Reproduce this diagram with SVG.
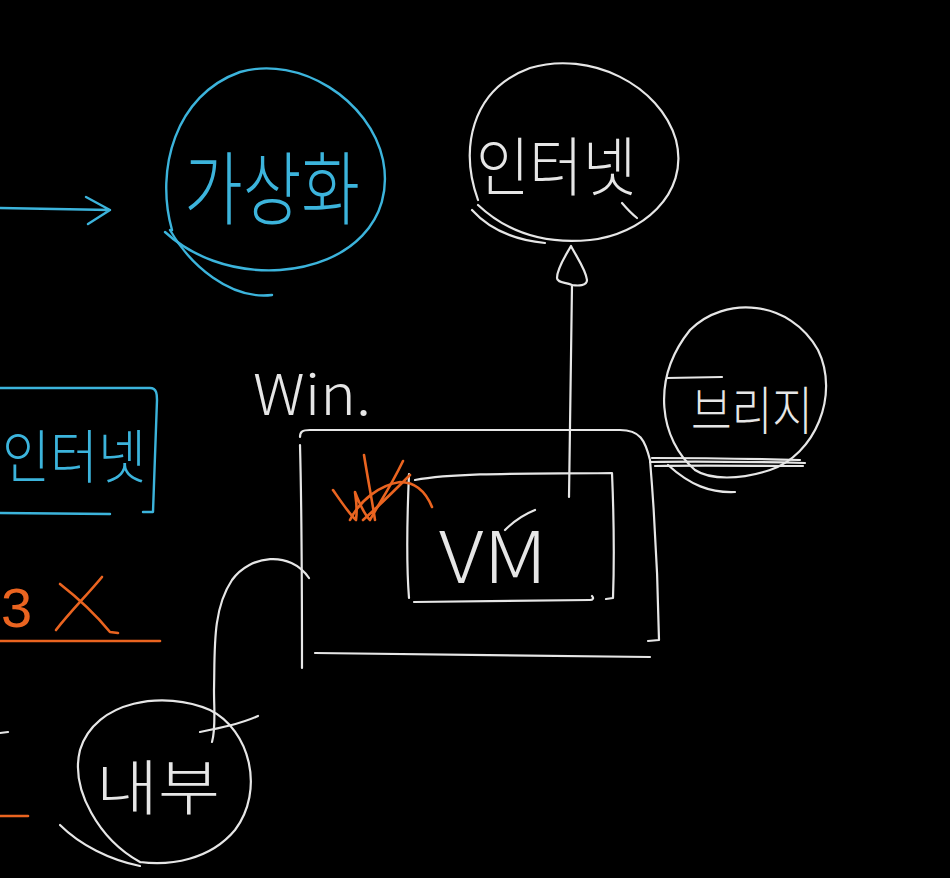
<svg xmlns="http://www.w3.org/2000/svg" width="950" height="878" viewBox="0 0 950 878">
<style>
.w{fill:none;stroke:#e6e6e6;stroke-width:2.2;stroke-linecap:round;stroke-linejoin:round}
.b{fill:none;stroke:#3cb4dc;stroke-width:2.4;stroke-linecap:round;stroke-linejoin:round}
.o{fill:none;stroke:#ea6420;stroke-width:2.6;stroke-linecap:round;stroke-linejoin:round}
.tw{fill:#e6e6e6;font-family:"Noto Sans CJK KR","Liberation Sans",sans-serif;font-weight:300}
.tb{fill:#3cb4dc;font-family:"Noto Sans CJK KR","Liberation Sans",sans-serif;font-weight:300}
.to{fill:#ea6420;font-family:"Liberation Sans",sans-serif;font-weight:300}
</style>
<rect width="950" height="878" fill="#000"/>

<g id="connectors">
  <path class="b" d="M0,208 L110,210 M86,197 L110,210 L88,224"/>
  <path class="w" d="M569,497 L572,285 M572,285 C565,282 557,283 557,278 C557,268 566,255 571,246 C576,256 586,270 587,280 C587,286 578,286 572,285"/>
  <path class="w" d="M309,578 C290,550 250,555 232,580 C212,610 215,650 214,690 C214,710 216,728 212,742"/>
  <path class="w" d="M200,732 C220,728 240,724 258,716"/>
  <path class="w" d="M650,462 C700,461 760,462 805,463 M652,458 C700,458 760,459 800,460 M655,466 C700,465 760,466 803,466"/>
</g>

<g id="node-virtualization">
  <path class="b" d="M172,230 C155,170 175,95 240,72 C300,55 370,100 383,160 C395,220 350,265 280,270 C230,273 190,255 165,232"/>
  <path class="b" d="M170,230 C190,265 230,300 272,295"/>
  <text class="tb" x="272" y="218" font-size="80" text-anchor="middle" textLength="176" lengthAdjust="spacingAndGlyphs">가상화</text>
</g>

<g id="node-internet-top">
  <path class="w" d="M478,200 C460,150 470,90 530,68 C590,50 660,85 676,140 C690,195 640,235 590,240 C550,244 510,235 478,205"/>
  <path class="w" d="M472,210 C490,230 515,240 545,243"/>
  <path class="w" d="M622,203 C628,210 632,214 637,218"/>
  <text class="tw" x="556" y="190" font-size="64" text-anchor="middle" textLength="160" lengthAdjust="spacingAndGlyphs">인터넷</text>
</g>

<g id="node-bridge">
  <path class="w" d="M695,470 C660,440 650,380 690,330 C725,295 790,300 818,350 C840,395 815,455 770,470 C740,480 710,480 695,470"/>
  <path class="w" d="M668,465 C690,485 710,493 735,492"/>
  <path class="w" d="M667,378 L722,377"/>
  <text class="tw" x="752" y="430" font-size="52" text-anchor="middle" textLength="122" lengthAdjust="spacingAndGlyphs">브리지</text>
</g>

<g id="node-win">
  <text class="tw" x="253" y="415" font-size="56" textLength="118" lengthAdjust="spacingAndGlyphs">Win.</text>
  <path class="w" d="M300,437 C300,432 302,430 310,430 L620,430 C640,430 645,440 650,460 C655,520 658,580 659,640 L648,641"/>
  <path class="w" d="M300,445 C302,520 302,600 302,668"/>
  <path class="w" d="M315,653 L650,657"/>
</g>

<g id="node-vm">
  <path class="w" d="M415,480 C460,472 540,474 612,473 C614,520 614,570 613,598 L606,599"/>
  <path class="w" d="M409,474 C407,520 406,560 409,598 M414,602 L590,600 C593,600 594,598 592,596"/>
  <text class="tw" x="493" y="583" font-size="72" text-anchor="middle" textLength="108" lengthAdjust="spacingAndGlyphs">VM</text>
  <path class="w" d="M505,530 C512,523 520,516 535,510"/>
</g>

<g id="orange-scribble">
  <path class="o" d="M333,490 C340,500 350,515 356,520 C358,506 355,495 355,492 C360,505 365,515 370,520 C378,505 390,488 403,461"/>
  <path class="o" d="M364,455 C368,480 372,500 375,520 M363,520 C380,505 395,490 410,475"/>
  <path class="o" d="M350,520 C360,500 380,485 400,482 C415,482 425,490 432,507"/>
</g>

<g id="node-internal">
  <path class="w" d="M140,862 C100,840 70,790 80,750 C95,700 165,690 210,710 C250,730 265,790 235,830 C210,860 170,866 140,862"/>
  <path class="w" d="M60,825 C80,845 110,860 140,866"/>
  <text class="tw" x="158" y="810" font-size="60" text-anchor="middle" textLength="124" lengthAdjust="spacingAndGlyphs">내부</text>
</g>

<g id="node-internet-left">
  <path class="b" d="M0,388 L150,388 C157,388 157,395 157,400 L153,512 L143,512 M0,513 L110,514"/>
  <text class="tb" x="2" y="478" font-size="58" textLength="144" lengthAdjust="spacingAndGlyphs">인터넷</text>
</g>

<g id="orange-3x">
  <text class="to" x="1" y="627" font-size="56">3</text>
  <path class="o" d="M56,630 C70,612 88,594 102,577 M60,584 C78,598 96,615 110,632 L118,633"/>
  <path class="o" d="M0,641 L160,641"/>
</g>

<g id="edge-marks">
  <path class="w" d="M0,733 L8,732"/>
  <path class="o" d="M0,816 L28,816" stroke-width="4"/>
</g>
</svg>
